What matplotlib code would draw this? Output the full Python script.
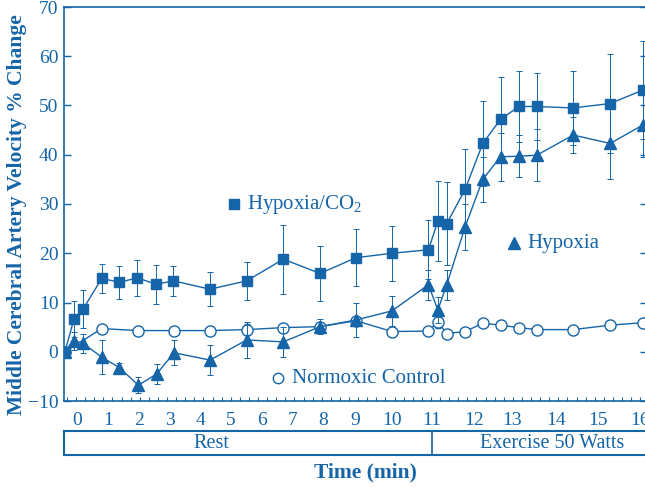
import numpy as np
import matplotlib
matplotlib.use("Agg")
import matplotlib.pyplot as plt

plt.rcParams['font.family'] = ['Liberation Serif', 'DejaVu Serif']
plt.rcParams['mathtext.fontset'] = 'custom'
plt.rcParams['mathtext.rm'] = 'Liberation Serif'

BLUE = '#1565a8'

# time (min) of each sample, the first one is the pre-rest baseline
t_sq = [-0.39, -0.10, 0.20, 0.80, 1.36, 1.95, 2.55, 3.11, 4.30, 5.51, 6.69, 7.90,
        9.03, 10.00, 10.91, 11.14, 11.35, 11.79, 12.23, 12.70, 13.16, 13.56, 14.41,
        15.29, 16.06]
hypox_co2 = [0, 6.6, 8.7, 14.9, 14.1, 15.0, 13.7, 14.4, 12.7, 14.4, 18.8, 15.9,
             19.1, 20.0, 20.7, 26.5, 26.0, 33.0, 42.3, 47.2, 49.8, 49.8, 49.5,
             50.4, 53.1]
hypox_co2_err = [0, 3.7, 3.9, 3.0, 3.3, 3.6, 4.0, 3.0, 3.5, 3.8, 7.0, 5.5,
                 5.8, 5.6, 6.0, 8.1, 8.4, 8.2, 8.6, 8.6, 7.2, 6.8, 7.5,
                 10.0, 9.9]

t_tri = [-0.39, -0.10, 0.20, 0.80, 1.36, 1.98, 2.57, 3.13, 4.30, 5.51, 6.69, 7.90,
         9.03, 10.00, 10.91, 11.14, 11.35, 11.79, 12.23, 12.70, 13.16, 13.56, 14.41,
         15.29, 16.06]
hypox = [0, 2.2, 1.7, -1.1, -3.2, -6.8, -4.5, -0.2, -1.7, 2.4, 2.0, 5.1,
         6.45, 8.3, 13.6, 8.5, 13.6, 25.4, 35.0, 39.6, 39.7, 39.9, 44.0,
         42.3, 46.0]
hypox_err = [0, 1.8, 2.0, 3.4, 1.0, 1.6, 2.0, 2.5, 3.1, 3.6, 3.0, 1.5,
             3.5, 3.0, 3.0, 2.7, 3.0, 4.7, 4.6, 4.9, 4.3, 5.3, 3.7,
             7.3, 6.5]

t_circ = [-0.39, 0.80, 1.98, 3.13, 4.30, 5.51, 6.69, 7.90, 9.03, 10.00, 10.91,
          11.14, 11.35, 11.79, 12.23, 12.70, 13.16, 13.56, 14.41, 15.29, 16.06]
normox = [0, 4.7, 4.3, 4.3, 4.3, 4.5, 4.9, 5.1, 6.3, 4.1, 4.2,
          6.1, 3.7, 4.1, 5.8, 5.4, 4.9, 4.5, 4.5, 5.4, 5.9]
normox_err = [0, 0, 0, 0, 0, 1.2, 0.8, 0, 0, 0, 0,
              1.3, 0, 0, 0, 0, 0, 0, 0, 0, 0]

x_ticks = list(range(0, 17))
y_ticks = list(range(-10, 71, 10))

# the printed time axis is not linear: piecewise map minutes -> position
T_KNOTS = [-1] + x_ticks + [17]
P_KNOTS = [46, 77, 108, 139, 170, 201, 231, 262, 293, 323, 355, 392, 432, 474,
           512, 556, 598, 640, 682]

def fwd(t):
    return np.interp(t, T_KNOTS, P_KNOTS)

def inv(p):
    return np.interp(p, P_KNOTS, T_KNOTS)


fig = plt.figure(figsize=(6.45, 4.87), dpi=100)
W, H = 645.0, 487.0
ax = fig.add_axes([64 / W, 1 - 401 / H, 583 / W, 394 / H])
ax.set_xscale('function', functions=(fwd, inv))

eb = dict(capsize=2.2, elinewidth=0.7, capthick=0.7, ecolor=BLUE, color=BLUE, lw=1.0)
ax.errorbar(t_circ, normox, yerr=normox_err, marker='o', ms=8, mfc='white',
            mec=BLUE, mew=1.0, zorder=2, **eb)
ax.errorbar(t_tri, hypox, yerr=hypox_err, marker='^', ms=8.5, mec=BLUE, zorder=3, **eb)
ax.errorbar(t_sq, hypox_co2, yerr=hypox_co2_err, marker='s', ms=7.5, mec=BLUE, zorder=4, **eb)

ax.set_xlim(inv(64), inv(647))
ax.set_ylim(-10, 70)
ax.set_xticks(x_ticks)
ax.set_xticklabels([str(v) for v in x_ticks])
ax.set_xticks(inv(np.arange(67, 647, 9.1)), minor=True)
ax.set_yticks(y_ticks)
ax.set_yticklabels([str(v).replace('-', '\u2212') for v in y_ticks])

for s in ax.spines.values():
    s.set_color(BLUE)
    s.set_linewidth(1.2)
ax.tick_params(axis='x', which='major', length=0, pad=8, labelsize=14, labelcolor=BLUE)
ax.tick_params(axis='x', which='minor', direction='in', length=3, width=0.8, color=BLUE)
ax.tick_params(axis='y', which='major', direction='in', length=5, width=1.0, color=BLUE,
               labelsize=14, labelcolor=BLUE, right=True, pad=4)
ax.set_ylabel('Middle Cerebral Artery Velocity % Change', fontsize=15.5,
              fontweight='bold', color=BLUE)
ax.yaxis.set_label_coords((27 - 64) / 583, (401 - 215) / 394)

# in-plot labels
ax.plot([inv(234)], [30], marker='s', ms=6.5, color=BLUE, clip_on=False)
ax.text(inv(247), 30, 'Hypoxia/CO$_2$', fontsize=15, color=BLUE, va='center')
ax.plot([inv(514)], [22], marker='^', ms=8, color=BLUE)
ax.text(inv(527), 22, 'Hypoxia', fontsize=15, color=BLUE, va='center')
ax.plot([inv(278)], [-5.4], marker='o', ms=7.5, mfc='white', mec=BLUE, mew=1.0)
ax.text(inv(292), -5.4, 'Normoxic Control', fontsize=15, color=BLUE, va='center')

# protocol bar under the axis
bar = fig.add_axes([64 / W, 1 - 455 / H, 610 / W, 24 / H])
bar.set_xscale('function', functions=(fwd, inv))
bar.set_xlim(inv(64), inv(674))
bar.set_ylim(0, 1)
bar.set_xticks([])
bar.set_yticks([])
for s in bar.spines.values():
    s.set_color(BLUE)
    s.set_linewidth(1.5)
bar.axvline(11, color=BLUE, lw=1.2)
bar.text(inv(211), 0.48, 'Rest', fontsize=14.5, color=BLUE, ha='center', va='center')
bar.text(inv(552), 0.48, 'Exercise 50 Watts', fontsize=14.5, color=BLUE,
         ha='center', va='center')

fig.text(365 / W, 1 - 472 / H, 'Time (min)', fontsize=15.5, fontweight='bold',
         color=BLUE, ha='center', va='center')

fig.savefig('out.png', dpi=100)
